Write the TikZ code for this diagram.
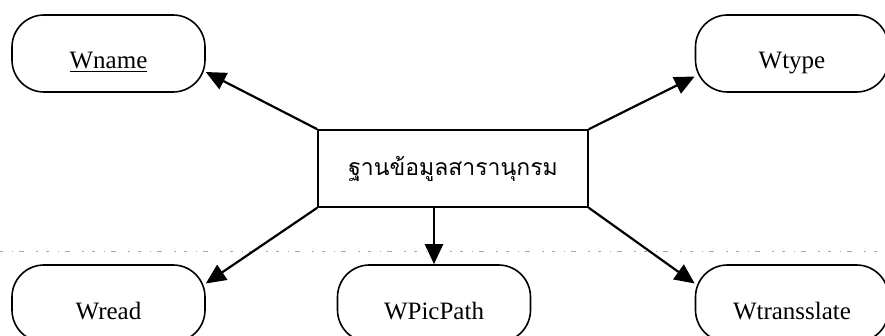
\documentclass[tikz,border=0pt]{standalone}
\usepackage{fontspec}
\setmainfont{Liberation Serif}
\newfontfamily\thaifont[Script=Thai]{Loma}
\usetikzlibrary{arrows.meta}
\tikzset{
  pill/.style={draw, line width=1.6pt, rounded corners=32pt, minimum width=193pt, minimum height=77pt,
    inner sep=0pt, text height=31pt, text depth=0pt, font=\fontsize{25}{25}\selectfont},
  centerbox/.style={draw, line width=1.6pt, minimum width=270pt, minimum height=77pt, inner sep=0pt,
    font=\thaifont\fontsize{23}{23}\selectfont},
  conn/.style={line width=2.2pt, -{Triangle[length=20pt,width=18pt]}},
}
\begin{document}
\begin{tikzpicture}[x=1pt,y=-1pt]
\useasboundingbox (0,0) rectangle (885,336);
\clip (0,0) rectangle (885,336);
\draw[gray!70, line width=1pt, dash pattern=on 3pt off 9pt on 1pt off 6pt on 5pt off 12pt on 2pt off 8pt] (0,252) -- (885,252);
\node[pill] (wname) at (108.5,53.5) {\underline{Wname}};
\node[pill] (wtype) at (792,53.5) {Wtype};
\node[pill] (wread) at (108.5,303.5) {Wread};
\node[pill] (wpic) at (434,303.5) {WPicPath};
\node[pill] (wtrans) at (792,303.5) {Wtransslate};
\node[centerbox] (db) at (453,168.5) {ฐานข้อมูลสารานุกรม\hspace{24pt}};
\draw[conn] (db.north west) -- ([yshift=-18.5pt]wname.east);
\draw[conn] (db.north east) -- ([yshift=-23pt]wtype.west);
\draw[conn] (db.south west) -- ([yshift=20pt]wread.east);
\draw[conn] (db.south east) -- ([yshift=20pt]wtrans.west);
\draw[conn] (wpic.north |- db.south) -- (wpic.north);
\end{tikzpicture}
\end{document}
